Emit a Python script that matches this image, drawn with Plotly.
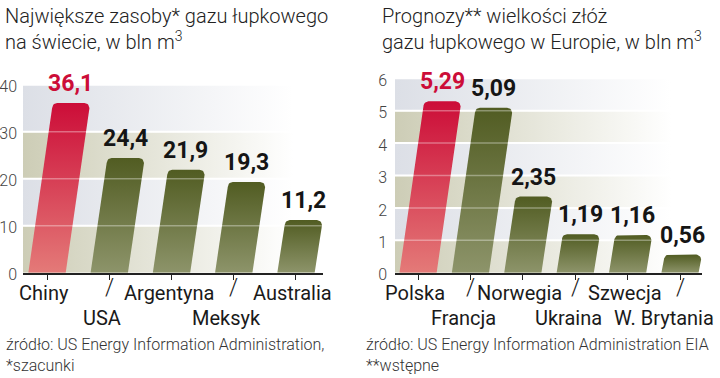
import numpy as np
import plotly.graph_objects as go

W, H = 720, 378

# ---------------- data ----------------
left_categories = ["Chiny", "USA", "Argentyna", "Meksyk", "Australia"]
left_values = [36.1, 24.4, 21.9, 19.3, 11.2]
left_ticks = [0, 10, 20, 30, 40]

right_categories = ["Polska", "Francja", "Norwegia", "Ukraina", "Szwecja", "W. Brytania"]
right_values = [5.29, 5.09, 2.35, 1.19, 1.16, 0.56]
right_ticks = [0, 1, 2, 3, 4, 5, 6]

left_title = "Największe zasoby* gazu łupkowego<br>na świecie, w bln m<sup>3</sup>"
right_title = "Prognozy** wielkości złóż<br>gazu łupkowego w Europie, w bln m<sup>3</sup>"
left_source = "źródło: US Energy Information Administration,<br>*szacunki"
right_source = "źródło: US Energy Information Administration EIA<br>**wstępne"

# ---------------- style ----------------
RED_TOP, RED_BOT = "#cc0d38", "#e47a78"
OLV_TOP, OLV_BOT = "#515c22", "#8d946a"
BEIGE, GRAY = "#cdcdb6", "#dcdfe6"
FONT = "Roboto"

panels = [
    dict(cats=left_categories, vals=left_values, ticks=left_ticks, dec=1,
         x0=23, x1=323, ybot=272.7, ytop=84.7, xr=[-0.386, 4.434], bw=0.30,
         standoff=5, xa="x", ya="y", xname="xaxis", yname="yaxis"),
    dict(cats=right_categories, vals=right_values, ticks=right_ticks, dec=2,
         x0=395, x1=702, ybot=272.7, ytop=78.3, xr=[-0.44, 5.42], bw=0.355,
         standoff=7, xa="x2", ya="y2", xname="xaxis2", yname="yaxis2"),
]

fig = go.Figure()
annotations = []
layout_axes = {}

for p in panels:
    yr = [p["ticks"][0], p["ticks"][-1]]
    ppx = (p["x1"] - p["x0"]) / (p["xr"][1] - p["xr"][0])
    ppy = (p["ybot"] - p["ytop"]) / (yr[1] - yr[0])
    slant = 0.14 * ppy / ppx          # x data units per y data unit
    rx, ry = 5 / ppx, 5 / ppy          # corner radius in data units
    gap = 1.0 / ppy

    # background bands
    for k in range(len(p["ticks"]) - 1):
        lo, hi = p["ticks"][k], p["ticks"][k + 1]
        col = BEIGE if k % 2 == 0 else GRAY
        lo2 = lo + (gap if k > 0 else 0)
        hi2 = hi - gap
        fig.add_trace(go.Scatter(
            x=[p["xr"][0], p["xr"][1], p["xr"][1], p["xr"][0], p["xr"][0]],
            y=[lo2, lo2, hi2, hi2, lo2], mode="lines", line=dict(width=0),
            fill="toself", fillgradient=dict(type="horizontal",
                                             colorscale=[[0, col], [0.9, "white"], [1, "white"]]),
            hoverinfo="skip", showlegend=False, xaxis=p["xa"], yaxis=p["ya"]))

    n = len(p["vals"])
    # slanted bars with rounded tops
    for i, v in enumerate(p["vals"]):
        bl = i - p["bw"]
        br = i + p["bw"]
        xs = [bl, br]
        ys = [0, 0]
        cx_r = br + slant * v - rx
        cx_l = bl + slant * v + rx
        cy = v - ry
        for t in np.linspace(0, np.pi / 2, 8):
            xs.append(cx_r + rx * np.cos(t)); ys.append(cy + ry * np.sin(t))
        for t in np.linspace(np.pi / 2, np.pi, 8):
            xs.append(cx_l + rx * np.cos(t)); ys.append(cy + ry * np.sin(t))
        xs.append(bl); ys.append(0)
        top, bot = (RED_TOP, RED_BOT) if i == 0 else (OLV_TOP, OLV_BOT)
        fig.add_trace(go.Scatter(
            x=xs, y=ys, mode="lines", line=dict(width=0), fill="toself",
            fillgradient=dict(type="vertical", start=0, stop=v,
                              colorscale=[[0, bot], [1, top]]),
            hoverinfo="skip", showlegend=False, xaxis=p["xa"], yaxis=p["ya"]))

        # value label
        label = f"{v:.{p['dec']}f}".replace(".", ",")
        annotations.append(dict(
            x=i + slant * v, y=v, xref=p["xa"], yref=p["ya"], yanchor="bottom",
            yshift=4, showarrow=False, text=label,
            font=dict(family=FONT, size=23, weight="bold",
                      color=RED_TOP if i == 0 else "#151515")))

        # category label (staggered rows)
        row1 = (i % 2 == 0)
        ypx = 293 if row1 else 318
        lab = dict(x=i, y=(H - ypx) / H, xref=p["xa"], yref="paper", yanchor="middle",
                   xshift=-3 if row1 else -7, showarrow=False, text=p["cats"][i],
                   font=dict(family=FONT, size=20, color="#1a1a1a"))
        if p is panels[1] and i == n - 1:
            # last label kept inside the page, right-aligned to the edge
            lab.update(x=716 / W, xref="paper", xanchor="right", xshift=0)
        annotations.append(lab)
        if not row1:
            annotations.append(dict(
                x=i, y=(H - 287) / H, xref=p["xa"], yref="paper", yanchor="middle",
                showarrow=False, text="/",
                font=dict(family=FONT, size=23, weight=300, color="#1a1a1a")))

    # faint white gridlines over bars
    for t in p["ticks"][1:-1]:
        fig.add_trace(go.Scatter(
            x=p["xr"], y=[t, t], mode="lines",
            line=dict(color="rgba(255,255,255,0.35)", width=1.5),
            hoverinfo="skip", showlegend=False, xaxis=p["xa"], yaxis=p["ya"]))

    layout_axes[p["xname"]] = dict(
        domain=[p["x0"] / W, p["x1"] / W], range=p["xr"], showgrid=False,
        zeroline=False, showline=True, linecolor="#222", linewidth=1.5,
        ticks="outside", ticklen=6, tickwidth=1, tickcolor="#222",
        tickvals=list(range(len(p["cats"]))), showticklabels=False,
        anchor=p["ya"], fixedrange=True, automargin=False)
    layout_axes[p["yname"]] = dict(
        domain=[(H - p["ybot"]) / H, (H - p["ytop"]) / H], range=yr,
        showgrid=False, zeroline=False, showline=False, ticks="",
        tickvals=p["ticks"], ticktext=[str(t) for t in p["ticks"]],
        tickfont=dict(family=FONT, size=16, weight=300, color="#444"),
        ticklabelstandoff=p["standoff"], ticklabelshift=2,
        anchor=p["xa"], fixedrange=True, automargin=False)

# titles and sources
for txt, x in [(left_title, 3), (right_title, 380)]:
    annotations.append(dict(x=x / W, y=1 - 2 / H, xref="paper", yref="paper",
                            xanchor="left", yanchor="top", align="left", showarrow=False,
                            text=txt, font=dict(family=FONT, size=20, weight=300, color="#222")))
for txt, x in [(left_source, 4), (right_source, 364)]:
    annotations.append(dict(x=x / W, y=1 - 333 / H, xref="paper", yref="paper",
                            xanchor="left", yanchor="top", align="left", showarrow=False,
                            text=txt, font=dict(family=FONT, size=16, weight=300, color="#333")))

fig.update_layout(
    width=W, height=H, margin=dict(l=0, r=0, t=0, b=0, autoexpand=False),
    paper_bgcolor="white", plot_bgcolor="rgba(0,0,0,0)",
    showlegend=False, annotations=annotations, **layout_axes)

fig.write_html("out.html", config={"displayModeBar": False},
               post_script="document.body.style.margin='0';document.body.style.overflow='hidden';")
